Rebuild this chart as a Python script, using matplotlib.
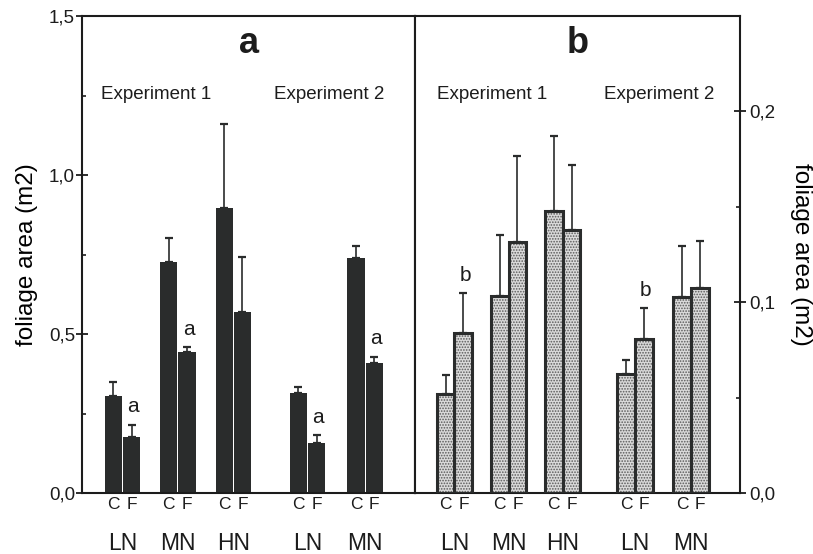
import matplotlib

matplotlib.use("Agg")
import matplotlib.pyplot as plt
import matplotlib.transforms as mtransforms
from matplotlib.ticker import FixedLocator, FuncFormatter

plt.rcParams.update({
    "font.family": ["Liberation Sans", "DejaVu Sans"],
    "text.color": "#1c1c1c",
    "axes.edgecolor": "#1c1c1c",
    "xtick.color": "#1c1c1c",
    "ytick.color": "#1c1c1c",
    "hatch.linewidth": 0.8,
    "hatch.color": "#5a5a5a",
})

# nitrogen level groups, two experiments side by side
groups = ["LN", "MN", "HN", "LN", "MN"]
group_x = [0.0, 1.0, 2.0, 3.34, 4.38]
experiments = ["Experiment 1", "Experiment 2"]

# panel a: foliage area, control (C) and fertilised (F), with upper SE
a_c = [0.305, 0.726, 0.896, 0.314, 0.739]
a_c_err = [0.045, 0.077, 0.264, 0.020, 0.038]
a_f = [0.176, 0.443, 0.569, 0.157, 0.409]
a_f_err = [0.038, 0.016, 0.173, 0.025, 0.019]
a_marks = ["a", "a", "", "a", "a"]

# panel b
b_c = [0.052, 0.103, 0.148, 0.0626, 0.1026]
b_c_err = [0.0096, 0.032, 0.039, 0.0069, 0.027]
b_f = [0.0837, 0.1316, 0.138, 0.0805, 0.1074]
b_f_err = [0.0210, 0.045, 0.034, 0.0163, 0.0246]
b_marks = ["b", "", "", "b", ""]

DARK = "#2a2c2c"
W, OFF = 0.31, 0.165


def comma(v, _pos=None):
    return f"{v:.1f}".replace(".", ",")


fig = plt.figure(figsize=(8.13, 5.54), dpi=100)
ax1 = fig.add_axes([82 / 813, 61 / 554, 333 / 813, 477 / 554])
ax2 = fig.add_axes([415 / 813, 61 / 554, 325 / 813, 477 / 554])


def panel(ax, c, c_err, f, f_err, marks, letter, exp_x, stippled):
    xc = [g - OFF for g in group_x]
    xf = [g + OFF for g in group_x]
    if stippled:
        for xs, ys in ((xc, c), (xf, f)):
            ax.bar(xs, ys, width=0.33, color="#dadada", hatch="......",
                   edgecolor="#5a5a5a", linewidth=0, zorder=2)
            ax.bar(xs, ys, width=0.33, fill=False, edgecolor=DARK,
                   linewidth=2.2, zorder=3)
    else:
        ax.bar(xc, c, width=W, color=DARK, zorder=2)
        ax.bar(xf, f, width=W, color=DARK, zorder=2)
    for xs, ys, es in ((xc, c, c_err), (xf, f, f_err)):
        ax.errorbar(xs, ys, yerr=[[0] * len(es), es], fmt="none",
                    ecolor=DARK, elinewidth=1.2, capsize=2.8, capthick=1.6,
                    zorder=1)
    for x, y, e, m in zip(xf, f, f_err, marks):
        if m:
            ax.annotate(m, (x + 0.03, y + e), xytext=(0, 9),
                        textcoords="offset points", ha="center",
                        va="baseline", fontsize=15)

    ax.set_xlim(-0.73, 5.28)
    ax.set_xticks(xc + xf)
    ax.set_xticklabels(["C"] * len(xc) + ["F"] * len(xf), fontsize=12.5)
    ax.tick_params(axis="x", length=0, pad=3)
    trans = mtransforms.blended_transform_factory(ax.transData, ax.transAxes)
    for g, name in zip(group_x, groups):
        ax.text(g, -0.105, name, transform=trans, ha="center", va="center",
                fontsize=16.5)
    for x, name in zip(exp_x, experiments):
        ax.text(x, 0.826, name, transform=trans, ha="center",
                va="baseline", fontsize=13.5)
    ax.text(0.5, 0.922, letter, transform=ax.transAxes, ha="center",
            va="baseline", fontsize=26, fontweight="bold")
    for s in ax.spines.values():
        s.set_linewidth(1.5)


panel(ax1, a_c, a_c_err, a_f, a_f_err, a_marks, "a", [0.61, 3.74], False)
panel(ax2, b_c, b_c_err, b_f, b_f_err, b_marks, "b", [0.69, 3.78], True)

ax1.set_ylim(0, 1.5)
ax1.yaxis.set_major_locator(FixedLocator([0, 0.5, 1.0, 1.5]))
ax1.yaxis.set_minor_locator(FixedLocator([0.25, 0.75, 1.25]))
ax1.yaxis.set_major_formatter(FuncFormatter(comma))
ax1.tick_params(axis="y", which="major", direction="inout", length=8,
                width=1.3, pad=1, labelsize=13.5)
ax1.tick_params(axis="y", which="minor", direction="in", length=3, width=1.2)
ax1.set_ylabel("foliage area (m2)", fontsize=17.5, labelpad=8)

ax2.set_ylim(0, 0.25)
ax2.yaxis.tick_right()
ax2.yaxis.set_label_position("right")
ax2.yaxis.set_major_locator(FixedLocator([0, 0.1, 0.2]))
ax2.yaxis.set_minor_locator(FixedLocator([0.05, 0.15]))
ax2.yaxis.set_major_formatter(FuncFormatter(comma))
ax2.tick_params(axis="y", which="major", direction="inout", length=8,
                width=1.3, pad=3, labelsize=13.5)
ax2.tick_params(axis="y", which="minor", direction="in", length=3, width=1.2)
ax2.set_ylabel("foliage area (m2)", fontsize=17.5, rotation=270,
               va="bottom", labelpad=10)

fig.savefig("out.png", dpi=100)
